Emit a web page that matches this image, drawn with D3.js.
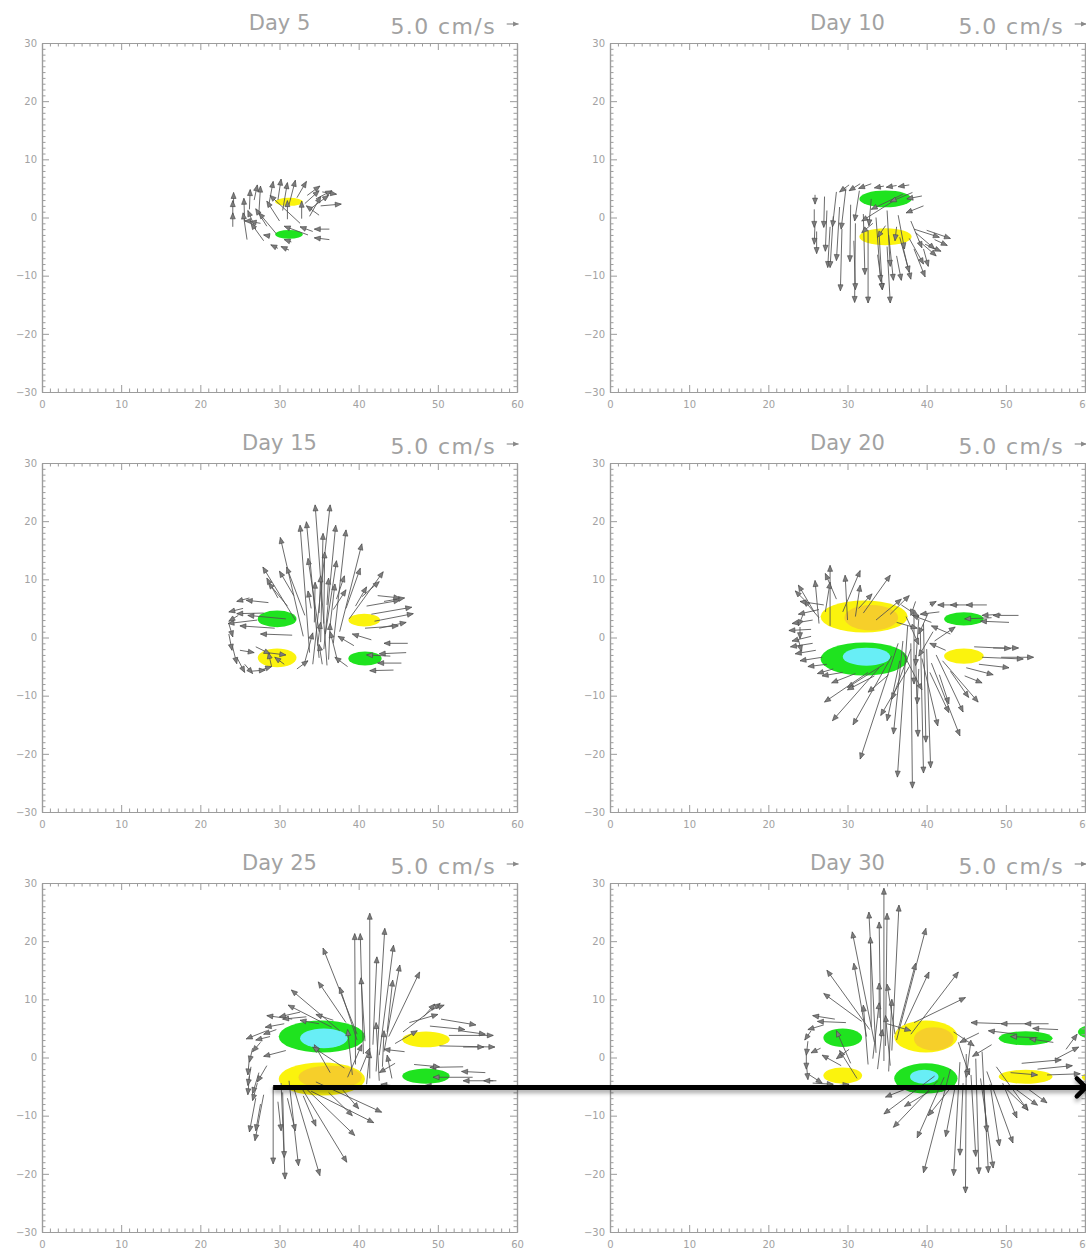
<!DOCTYPE html>
<html><head><meta charset="utf-8">
<script src="https://cdn.jsdelivr.net/npm/d3@7"></script>
<style>
html,body{margin:0;padding:0;background:#fff;overflow:hidden}
svg{display:block}
text{font-family:"DejaVu Sans",sans-serif}
</style></head><body>
<svg id="chart" width="1086" height="1254"></svg>
<script>
// ---- panel labels and axis ticks ----
const days = [5, 10, 15, 20, 25, 30];
const xTicks = [0, 10, 20, 30, 40, 50, 60];
const yTicks = [-30, -20, -10, 0, 10, 20, 30];
const refSpeedLabel = "5.0 cm/s";
const refVector = 1.5;          // grid units drawn for 5.0 cm/s

// ---- anomaly cells: [cx, cy, rx, ry, kind] ----
const day5Cells = [[31.2, 2.7, 1.75, 0.7, "pos"], [31.2, -2.9, 1.75, 0.75, "neg"]];
const day10Cells = [[34.8, 3.2, 3.3, 1.45, "neg"], [34.8, -3.3, 3.3, 1.45, "pos"]];
const day15Cells = [[29.7, 3.2, 2.45, 1.45, "neg"], [40.7, 3.0, 2.0, 1.1, "pos"],
  [29.7, -3.5, 2.45, 1.6, "pos"], [40.8, -3.6, 2.1, 1.2, "neg"]];
const day20Cells = [[32.1, 3.6, 5.5, 2.75, "pos"], [33.0, 3.4, 3.4, 2.2, "pos2"],
  [32.1, -3.7, 5.5, 2.85, "neg"], [32.4, -3.3, 3.0, 1.55, "neg2"],
  [44.7, 3.2, 2.5, 1.15, "neg"], [44.7, -3.2, 2.5, 1.3, "pos"]];
const day25Cells = [[35.35, 3.6, 5.45, 2.75, "neg"], [35.6, 3.3, 3.0, 1.7, "neg2"],
  [35.35, -3.7, 5.45, 2.85, "pos"], [36.4, -3.4, 4.0, 2.0, "pos2"],
  [48.5, 3.1, 3.0, 1.35, "pos"], [48.5, -3.2, 3.0, 1.3, "neg"]];
const day30Cells = [[29.4, 3.4, 2.45, 1.6, "neg"], [29.4, -3.1, 2.45, 1.4, "pos"],
  [39.9, 3.6, 4.0, 2.75, "pos"], [40.9, 3.2, 2.5, 2.0, "pos2"],
  [39.9, -3.6, 4.0, 2.6, "neg"], [39.7, -3.3, 1.8, 1.2, "neg2"],
  [52.5, 3.3, 3.4, 1.2, "neg"], [52.5, -3.3, 3.4, 1.2, "pos"],
  [62.5, 4.4, 3.4, 1.5, "neg"], [62.8, -3.4, 3.2, 1.2, "pos"]];

// ---- velocity vectors: [x, y, u, v] (u, v in grid units at the reference scale) ----
const day5Vectors = [
  [24.1,-1.6,0.0,2.4],[24.1,0.3,0.0,2.6],[24.2,1.9,0.0,2.4],[25.9,-3.8,-0.5,4.6],[25.6,-0.6,-0.1,3.9],
  [26.2,1.4,0.1,3.4],[27.0,-2.0,-1.0,3.2],[27.4,0.8,0.2,4.6],[28.0,-4.0,-1.6,3.0],[28.4,-1.5,-1.4,3.0],
  [28.6,1.8,0.6,4.4],[29.6,-2.8,-2.2,3.6],[30.0,-0.6,-1.6,3.4],[29.8,3.0,0.4,3.6],[31.0,-0.3,0.0,3.2],
  [31.2,2.2,0.8,4.2],[32.6,-1.0,-3.8,4.8],[32.2,3.4,1.2,2.8],[32.8,-0.2,0.0,3.0],[33.2,2.4,1.8,2.2],
  [33.5,3.8,1.6,1.6],[34.0,1.6,2.2,2.2],[34.6,3.2,2.0,1.4],[35.2,2.0,2.6,0.3],[35.4,4.4,1.8,-0.4],
  [35.0,0.4,-1.6,1.6],[36.3,-2.0,-1.9,0.0],[36.3,-3.8,-1.9,0.3],[34.2,-2.4,-1.6,0.8],[33.6,-3.0,-3.0,1.5],
  [31.2,-5.6,-1.0,0.6],[29.8,-5.3,-0.9,0.6],[27.6,-1.0,-1.3,0.3],[26.4,-0.6,-0.8,0.0],[28.8,-3.2,-0.8,0.2],
  [31.5,-4.2,-0.9,0.4],[26.8,3.0,0.4,2.6],[30.4,1.2,0.6,4.8],[33.8,0.2,1.4,3.4]
];
const day10Vectors = [
  [30.2,5.6,-1.2,-1.2],[31.6,5.8,-1.4,-1.2],[33.0,5.8,-1.6,-0.8],[34.6,5.4,-1.2,-0.3],[36.2,5.5,-1.3,-0.3],
  [37.8,5.6,-1.4,-0.3],[39.4,3.7,-1.9,-0.5],[39.6,2.0,-2.2,-1.2],[38.2,4.3,-2.8,-1.6],[37.0,4.0,-4.0,-2.6],
  [36.0,3.0,-4.2,-3.6],[25.9,3.9,0.0,-1.6],[25.8,1.4,0.0,-3.1],[25.9,-0.8,-0.1,-3.8],[26.1,-2.4,0.0,-3.8],
  [27.1,3.6,-0.1,-5.3],[27.4,1.2,-0.2,-7.0],[27.8,-1.6,-0.3,-7.0],[28.6,4.4,-0.5,-6.0],[29.0,1.8,-0.4,-9.2],
  [29.3,-2.0,-0.2,-10.6],[29.8,5.0,-0.6,-7.0],[30.4,2.2,-0.1,-9.8],[31.0,-1.0,-0.1,-13.6],[31.5,4.6,-0.6,-5.2],
  [32.0,0.6,0.2,-10.4],[32.6,-2.2,0.0,-12.5],[33.0,3.2,-0.3,-4.6],[33.6,0.0,0.6,-11.0],[34.0,-3.0,0.4,-9.4],
  [35.0,1.2,0.4,-9.6],[35.2,-3.0,0.6,-7.8],[35.0,-5.0,0.4,-9.7],[36.4,0.4,0.8,-5.8],[36.6,-3.4,1.2,-6.0],
  [37.0,-5.0,1.0,-5.6],[38.0,-0.6,1.4,-4.6],[37.8,-3.6,1.8,-4.4],[38.4,-5.4,1.4,-4.8],[38.6,-2.6,2.4,-2.8],
  [39.0,-4.0,2.2,-2.6],[39.6,-5.4,0.6,-3.0],[38.4,-2.0,3.2,-1.4],[40.0,-2.2,3.0,-1.4],[41.0,-3.8,1.6,-1.0],
  [39.8,-4.6,2.0,-1.2],[34.8,-1.4,-1.0,-2.0],[33.2,-1.0,-1.4,-1.6],[36.2,-1.6,-0.2,-2.4],
  [28.2,0.2,-0.4,-8.8],[30.8,-4.0,0.2,-8.4],[33.8,-6.4,0.6,-6.0],[36.2,-6.6,0.6,-4.2]
];
const day15Vectors = [
  [36.0,-4.8,-1.5,27.6],[34.2,-4.6,2.2,27.4],[35.0,-3.5,-1.6,23.4],[35.6,-2.0,1.5,21.3],[36.8,-1.0,1.6,19.5],
  [33.8,-2.6,-1.2,21.9],[33.0,0.2,-2.9,17.0],[37.6,1.0,2.8,15.1],[32.0,3.0,-4.1,9.1],[33.2,3.8,-2.3,8.3],
  [38.8,3.2,4.3,8.1],[35.0,1.0,-1.4,12.6],[35.8,0.6,1.4,12.6],[35.2,-0.8,0.3,18.7],[35.6,2.4,0.1,12.3],
  [34.4,2.6,0.1,6.9],[36.4,2.2,0.6,7.0],[38.4,5.0,1.8,6.9],[39.6,5.4,1.4,3.3],[31.0,5.4,-2.4,4.0],
  [34.0,5.0,-0.4,3.0],[36.8,4.8,1.6,3.4],[35.4,-4.6,-0.4,3.4],[34.8,-1.4,0.4,4.0],[36.2,-3.8,0.2,6.2],
  [35.0,4.2,0.2,6.4],[36.0,5.6,0.2,4.6],[37.4,-4.4,-1.0,5.4],[33.2,-4.2,1.0,5.0],
  [28.6,6.0,-2.8,0.4],[28.0,4.2,-3.4,-0.1],[27.2,3.0,-3.7,-0.6],[26.2,6.8,-1.6,-0.6],[30.8,3.2,-4.8,0.6],
  [29.4,1.6,-4.4,0.4],[31.6,0.4,-4.0,0.2],[23.6,2.4,0.5,-2.3],[23.6,0.6,0.4,-2.8],[24.0,-1.2,0.6,-3.3],
  [24.6,-3.4,1.0,-2.6],[25.6,-4.6,1.0,-1.6],[26.4,-5.8,1.8,0.2],[27.6,-5.6,1.4,0.6],[25.0,-2.2,1.8,-0.4],
  [29.0,-5.0,-0.4,2.4],[30.6,-4.6,-1.2,1.2],[32.2,-5.4,1.4,1.4],[27.0,-1.6,1.8,-1.2],[28.4,-2.6,2.4,-0.4],
  [41.0,5.4,4.2,1.0],[41.6,4.0,5.1,1.2],[42.0,2.8,4.9,1.3],[42.6,1.6,3.4,1.0],[40.8,1.6,4.2,0.4],
  [43.2,6.2,2.6,0.6],[42.4,7.2,2.8,-0.4],[46.2,-1.0,-3.0,0.0],[46.0,-2.6,-3.4,-0.2],[45.4,-4.4,-3.0,0.0],
  [44.4,-5.6,-3.0,-0.1],[44.0,-3.2,-3.0,0.2],[38.6,-5.0,-1.6,1.6],[39.4,-1.4,-2.0,1.6],[41.6,-0.4,-2.4,1.0],
  [29.8,6.8,-1.4,3.4],[31.8,7.2,-1.8,4.2],[37.2,6.6,1.0,4.0],[40.4,7.0,2.2,2.6],[25.4,5.0,-1.8,-0.6],[24.8,3.8,-1.2,-1.0]
];
const day20Vectors = [
  [38.0,-1.0,0.2,-24.9],[37.6,2.0,-1.3,-26.0],[39.2,1.0,0.4,-24.3],[40.0,-2.0,0.5,-20.4],[38.6,-3.0,0.3,-14.0],
  [37.0,-0.6,-1.2,-16.0],[36.4,-1.0,-4.8,-19.9],[35.6,-3.2,-4.9,-11.8],[34.0,-5.2,-5.9,-9.1],[32.6,-6.0,-5.5,-5.1],
  [36.6,-4.0,-1.6,-10.3],[39.4,-3.6,2.0,-11.6],[40.6,-4.4,3.6,-12.5],[41.2,-3.0,3.4,-9.8],[42.0,-4.0,4.5,-7.1],
  [37.8,-5.0,-3.6,-8.4],[34.6,-4.6,-4.6,-4.0],[39.0,-5.4,-0.2,-6.0],[39.6,2.4,0.3,-20.4],[40.4,-6.0,2.4,-6.9],
  [43.0,-5.8,2.3,-4.5],[38.4,4.0,0.0,-12.0],[39.0,3.2,-0.4,-8.0],
  [27.8,2.0,0.0,10.4],[26.4,2.4,-0.5,7.4],[30.0,3.0,-0.3,7.7],[29.4,4.4,2.2,7.1],[32.0,4.2,3.4,6.5],
  [27.2,4.4,0.6,5.1],[31.0,3.6,0.6,5.4],[31.4,5.0,1.7,2.5],[25.8,4.4,-2.0,4.6],[26.4,3.4,-1.9,3.0],
  [33.6,3.0,3.2,3.6],[35.4,4.0,2.4,3.2],
  [27.0,5.6,-3.0,0.6],[26.4,4.8,-2.6,-0.8],[25.6,3.0,-2.6,-0.6],[25.4,1.4,-2.8,-0.2],[25.4,0.2,-2.4,-0.8],
  [25.6,-1.0,-2.8,-0.6],[26.0,-2.2,-2.6,-0.6],[26.8,-3.4,-2.8,-0.6],[27.4,-4.6,-2.4,-0.4],[28.2,-5.4,-2.0,-0.8],
  [24.4,4.0,-0.6,-2.0],[24.0,1.8,0.0,-2.0],[23.8,-0.4,0.4,-2.0],
  [44.0,5.6,-2.6,0.0],[45.8,5.6,-2.8,0.0],[47.6,5.6,-2.6,0.0],[51.6,3.8,-3.2,0.0],[49.4,4.0,-2.4,-0.2],
  [48.2,3.4,-3.4,-0.2],[50.4,2.6,-3.6,0.2],
  [46.0,-1.6,4.6,-0.3],[48.4,-1.8,3.2,0.0],[47.0,-3.4,5.2,-0.3],[49.4,-3.4,4.1,0.0],[46.6,-4.6,3.8,-0.6],
  [45.0,-5.2,3.4,-1.2],[44.8,-6.6,2.2,-1.2],
  [40.6,2.6,-2.4,1.2],[41.6,4.4,-2.4,-0.4],[40.4,5.6,0.8,0.6],[41.0,-0.6,2.6,2.4],[42.4,-2.2,-2.0,1.2],
  [43.0,0.6,-2.4,1.4],
  [36.8,5.6,2.2,-2.0],[37.4,3.6,1.6,-4.8],[40.2,4.2,-1.2,-3.6],[38.6,6.2,-0.6,-2.4],[36.2,2.6,2.6,-1.0],
  [40.8,1.0,-1.8,-4.2],[37.0,-2.6,2.4,-6.4],[38.0,-2.0,-2.4,-8.6],[35.2,-6.4,-2.6,-3.0],[33.4,-6.6,-3.4,-2.4],
  [31.0,-6.2,-3.0,-1.6],[29.4,-6.0,-2.6,-0.6],[41.6,-6.4,1.2,-5.0],[24.6,6.4,-1.2,1.6],[28.6,6.6,-1.4,4.4]
];
const day25Vectors = [
  [41.4,-3.6,0.0,28.4],[39.6,-1.2,-0.1,22.5],[40.6,0.6,-0.4,20.7],[42.2,-2.4,1.1,24.6],[42.6,0.4,1.8,18.9],
  [41.8,2.2,0.5,15.1],[43.2,1.0,2.0,14.9],[43.8,3.6,3.9,11.1],[39.8,4.0,-4.3,14.8],[37.6,4.6,-6.1,7.0],
  [38.4,6.0,-3.5,7.0],[39.8,3.0,-2.2,9.1],[43.6,4.4,0.7,8.9],[40.8,2.8,-0.5,10.9],[36.6,5.2,-5.5,3.8],
  [45.6,4.4,4.7,4.9],[42.6,-4.0,-0.4,10.0],[43.0,-1.6,0.2,6.2],[41.0,-4.6,0.4,5.6],[44.2,-3.6,-0.6,4.0],
  [31.6,6.6,-3.2,0.6],[33.4,7.0,-3.0,-0.4],[30.6,5.8,-2.4,-0.6],[29.6,4.8,-1.6,-0.8],[28.8,3.6,-1.8,-0.6],
  [27.6,2.6,-1.0,-1.6],[26.6,1.6,-0.4,-2.4],[26.2,0.0,-0.2,-3.0],[26.4,-1.6,-0.4,-3.2],[26.2,-3.2,-0.2,-3.2],
  [27.2,-4.4,-0.6,-3.0],[28.4,4.6,-2.6,-1.4],[35.0,5.8,-2.4,0.6],[36.8,6.4,-2.2,1.0],
  [29.2,-5.0,0.0,-13.3],[30.2,-4.4,0.5,-16.5],[31.2,-4.0,1.2,-14.6],[31.8,-5.2,3.3,-15.1],[32.6,-4.8,5.9,-13.2],
  [33.4,-5.4,6.1,-8.0],[34.6,-4.2,8.3,-5.2],[34.0,-5.8,7.9,-5.4],[30.4,-6.0,0.2,-11.2],[28.0,-6.4,-1.1,-7.9],
  [27.0,-7.0,-0.8,-5.8],[27.6,-8.0,-0.6,-4.6],[29.8,-7.6,0.4,-5.0],[31.0,-7.0,1.0,-5.6],[33.0,-6.6,1.6,-5.2],
  [51.4,3.8,5.6,0.0],[50.2,2.0,7.0,-0.2],[52.8,4.6,3.2,-0.6],[53.2,1.8,2.6,0.0],[49.0,5.4,4.4,-0.6],
  [50.4,6.6,4.4,-1.0],[49.2,8.2,1.6,0.8],[48.2,7.0,1.4,2.2],
  [53.2,-1.6,-4.2,-0.1],[54.4,-3.4,-5.0,0.0],[57.4,-4.0,-4.2,0.0],[57.0,-4.0,-1.2,0.0],[56.0,-2.6,-3.0,0.2],
  [51.6,-5.0,-3.2,0.2],
  [36.4,-2.6,-2.0,4.8],[38.2,-1.8,-4.0,3.6],[44.6,-1.0,-2.0,-1.6],[45.8,1.0,-2.6,0.4],
  [38.6,-3.4,1.8,5.6],[40.2,-2.4,1.2,4.0],[44.6,2.4,2.8,2.2],[46.4,6.0,3.6,1.4],[47.0,-1.2,3.2,-0.4],
  [45.2,-5.0,-2.4,0.4],[38.0,-5.6,2.0,-3.2],[36.2,-6.0,3.0,-4.0],[28.4,-1.4,-1.2,-2.8],[27.4,-2.6,-0.8,-3.6],
  [32.6,7.8,-2.6,-0.8],[30.8,1.2,-2.8,-1.0],[39.2,-3.0,-0.6,7.8]
];
const day30Vectors = [
  [34.6,-0.6,0.0,29.7],[33.6,0.8,-0.9,24.2],[35.6,1.2,0.9,25.0],[34.8,2.0,0.2,22.8],[34.2,3.6,-0.2,19.7],
  [33.4,2.6,-2.8,19.0],[36.2,3.0,3.7,19.2],[33.0,5.2,-0.1,15.5],[32.8,4.8,-5.4,10.2],[32.4,3.6,-1.6,12.6],
  [36.4,4.8,2.2,11.4],[37.2,5.6,3.1,9.1],[38.0,4.0,6.0,10.7],[38.4,6.0,6.5,4.3],[31.8,6.2,-4.8,4.8],
  [34.0,6.8,0.0,6.0],[35.4,-1.4,-0.6,8.6],[33.8,-2.0,0.6,6.8],[32.6,-1.2,-0.6,10.2],
  [45.0,0.6,-0.1,-23.9],[44.2,-0.8,-0.8,-19.5],[46.2,-0.2,0.4,-19.8],[47.0,1.0,0.8,-20.8],[43.0,-2.0,-3.4,-17.8],
  [47.6,-2.4,3.3,-12.3],[42.2,-3.4,-3.4,-10.4],[41.4,-4.0,-5.6,-8.0],[41.0,-3.2,-6.4,-6.5],[48.8,-1.6,4.0,-7.5],
  [45.6,-3.0,0.6,-14.0],[46.8,-3.6,1.6,-15.4],[44.6,-4.4,-0.4,-12.4],[48.0,-4.6,1.2,-10.6],[43.6,-5.0,-1.2,-8.6],
  [49.6,-4.4,1.8,-6.0],
  [28.4,6.6,-2.8,0.6],[29.8,6.0,-3.6,0.2],[27.0,5.6,-2.0,-0.8],[25.4,4.6,-0.8,-1.6],[25.0,2.8,-0.2,-2.4],
  [24.8,0.8,0.0,-2.8],[24.8,-1.0,0.2,-2.8],[25.2,-3.0,1.6,-1.4],[25.6,-4.4,2.6,-0.2],[27.8,-5.0,2.4,0.4],
  [26.6,1.6,-1.2,-0.8],[30.4,-1.0,-1.8,5.6],[31.2,-3.6,-2.2,4.8],[29.2,-1.4,-2.4,1.8],
  [50.0,5.8,-4.4,0.2],[53.0,5.8,-3.6,0.0],[55.4,5.8,-3.0,0.0],[56.6,4.8,-3.2,0.2],[51.4,4.0,-3.6,0.6],
  [54.0,3.4,-3.4,0.2],[56.0,2.6,-3.0,0.6],
  [52.0,-1.0,5.0,0.6],[54.0,-2.0,4.4,0.6],[55.2,-3.0,4.2,0.2],[50.6,-2.6,3.4,-0.4],[56.4,-0.2,2.8,2.0],
  [57.6,1.4,1.4,2.6],[49.6,-4.8,3.2,-4.2],[51.0,-5.2,3.0,-3.0],[52.6,-5.2,2.6,-2.6],
  [35.2,-2.4,0.4,12.4],[33.2,-0.2,0.8,9.6],[36.0,4.0,-1.0,8.6],[44.0,2.6,1.4,-5.6],[45.6,3.0,-0.6,-6.4],
  [47.2,-5.6,0.4,-7.2],[42.8,-5.6,-2.6,-4.4],[40.4,-5.8,-3.2,-2.6],[37.4,-5.4,-2.6,-1.4],[30.2,1.4,-1.6,-1.6],
  [35.0,5.8,3.0,-1.2],[46.6,4.2,-2.4,-1.6],[43.4,4.4,2.6,-2.4],[48.2,2.2,-2.4,-2.0]
];

// front arrow drawn across the last row: start/end in panel grid coordinates
const frontFrom = {day: 25, x: 29.2, y: -5.15};
const frontTo = {day: 30, x: 60.1, y: -5.15};

const cellsByDay = [day5Cells, day10Cells, day15Cells, day20Cells, day25Cells, day30Cells];
const vectorsByDay = [day5Vectors, day10Vectors, day15Vectors, day20Vectors, day25Vectors, day30Vectors];

// ---- layout ----
const panelW = 475, panelH = 349;
const colLeft = [42, 610], rowTop = [43, 463, 883];
const axisGray = "#9c9c9c", textGray = "#a2a2a2";

const cellColor = d3.scaleOrdinal()
  .domain(["pos", "pos2", "neg", "neg2"])
  .range(["#fbf30d", "#f6cf2a", "#1fe31f", "#68eef6"]);

const svg = d3.select("#chart");
const defs = svg.append("defs");
const shadow = defs.append("filter").attr("id", "soft-shadow")
  .attr("x", "-5%").attr("y", "-200%").attr("width", "110%").attr("height", "500%");
shadow.append("feDropShadow").attr("dx", 0).attr("dy", 3).attr("stdDeviation", 2.2)
  .attr("flood-color", "#000").attr("flood-opacity", 0.35);

const x = d3.scaleLinear().domain([0, 60]).range([0, panelW]);
const y = d3.scaleLinear().domain([-30, 30]).range([panelH, 0]);

function headPath(x1, y1, x2, y2, L = 6, W = 2.5) {
  const a = Math.atan2(y2 - y1, x2 - x1);
  const bx = x2 - L * Math.cos(a), by = y2 - L * Math.sin(a);
  const px = -Math.sin(a) * W, py = Math.cos(a) * W;
  return `M${x2},${y2}L${bx + px},${by + py}L${bx - px},${by - py}Z`;
}

function styleAxis(sel) {
  sel.select(".domain").attr("stroke", axisGray).attr("stroke-width", 1.2);
  sel.selectAll(".tick line").attr("stroke", axisGray).attr("stroke-width", 1);
  sel.selectAll(".tick text").attr("fill", textGray).attr("font-size", 10)
    .attr("font-family", "DejaVu Sans, sans-serif");
}

const minorX = d3.range(0, 61, 1).filter(v => v % 10 !== 0);
const minorY = d3.range(-30, 31, 1).filter(v => v % 10 !== 0);
const noLabel = () => "";

function panelOrigin(i) {
  return [colLeft[i % 2], rowTop[Math.floor(i / 2)]];
}

days.forEach((day, i) => {
  const [ox, oy] = panelOrigin(i);
  const g = svg.append("g").attr("transform", `translate(${ox},${oy})`);

  // anomaly cells
  g.append("g").selectAll("ellipse").data(cellsByDay[i]).join("ellipse")
    .attr("cx", d => x(d[0])).attr("cy", d => y(d[1]))
    .attr("rx", d => x(d[2]) - x(0)).attr("ry", d => y(0) - y(d[3]))
    .attr("fill", d => cellColor(d[4]));

  // velocity vectors
  const vg = g.append("g");
  const vec = vectorsByDay[i];
  vg.selectAll("line").data(vec).join("line")
    .attr("x1", d => x(d[0])).attr("y1", d => y(d[1]))
    .attr("x2", d => x(d[0] + d[2])).attr("y2", d => y(d[1] + d[3]))
    .attr("stroke", "#505050").attr("stroke-width", 0.85);
  vg.selectAll("path").data(vec).join("path")
    .attr("d", d => headPath(x(d[0]), y(d[1]), x(d[0] + d[2]), y(d[1] + d[3])))
    .attr("fill", "#7d7d7d").attr("stroke", "#444").attr("stroke-width", 0.6)
    .attr("stroke-linejoin", "round");

  // frame: inward major and minor ticks on all four sides
  const bottom = g.append("g").attr("transform", `translate(0,${panelH})`);
  bottom.append("g").call(d3.axisBottom(x).tickValues(minorX).tickSize(-3.5).tickSizeOuter(0).tickFormat(noLabel)).call(styleAxis);
  bottom.append("g").call(d3.axisBottom(x).tickValues(xTicks).tickSize(-7).tickSizeOuter(0).tickPadding(9).tickFormat(d3.format("d"))).call(styleAxis);
  const top = g.append("g");
  top.append("g").call(d3.axisTop(x).tickValues(minorX).tickSize(-3.5).tickSizeOuter(0).tickFormat(noLabel)).call(styleAxis);
  top.append("g").call(d3.axisTop(x).tickValues(xTicks).tickSize(-7).tickSizeOuter(0).tickFormat(noLabel)).call(styleAxis);
  const left = g.append("g");
  left.append("g").call(d3.axisLeft(y).tickValues(minorY).tickSize(-3.5).tickSizeOuter(0).tickFormat(noLabel)).call(styleAxis);
  left.append("g").call(d3.axisLeft(y).tickValues(yTicks).tickSize(-7).tickSizeOuter(0).tickPadding(5).tickFormat(d3.format("d"))).call(styleAxis);
  const right = g.append("g").attr("transform", `translate(${panelW},0)`);
  right.append("g").call(d3.axisRight(y).tickValues(minorY).tickSize(-3.5).tickSizeOuter(0).tickFormat(noLabel)).call(styleAxis);
  right.append("g").call(d3.axisRight(y).tickValues(yTicks).tickSize(-7).tickSizeOuter(0).tickFormat(noLabel)).call(styleAxis);

  // title and reference vector
  g.append("text").attr("x", x(30)).attr("y", -13).attr("text-anchor", "middle")
    .attr("font-size", 21).attr("fill", textGray).text(`Day ${day}`);
  g.append("text").attr("x", x(60) - 21).attr("y", -9).attr("text-anchor", "end")
    .attr("font-size", 22).attr("letter-spacing", 1.4).attr("fill", textGray).text(refSpeedLabel);
  const rx0 = x(60.2 - refVector), rx1 = x(60.2), ry0 = -19;
  g.append("line").attr("x1", rx0).attr("y1", ry0).attr("x2", rx1).attr("y2", ry0)
    .attr("stroke", "#888").attr("stroke-width", 1.1);
  g.append("path").attr("d", headPath(rx0, ry0, rx1, ry0, 5.5, 2.6)).attr("fill", "#888");
});

// front arrow spanning the bottom row
const fromIdx = days.indexOf(frontFrom.day), toIdx = days.indexOf(frontTo.day);
const [fx, fy] = panelOrigin(fromIdx), [tx, ty] = panelOrigin(toIdx);
const ax0 = fx + x(frontFrom.x), ay0 = fy + y(frontFrom.y);
const ax1 = tx + x(frontTo.x), ay1 = ty + y(frontTo.y);
const front = svg.append("g").attr("filter", "url(#soft-shadow)");
front.append("line").attr("x1", ax0).attr("y1", ay0).attr("x2", ax1 - 2).attr("y2", ay1)
  .attr("stroke", "#000").attr("stroke-width", 5);
front.append("path")
  .attr("d", `M${ax1 - 9},${ay1 - 9}L${ax1},${ay1}L${ax1 - 9},${ay1 + 9}`)
  .attr("fill", "none").attr("stroke", "#000").attr("stroke-width", 4.5)
  .attr("stroke-linecap", "round").attr("stroke-linejoin", "round");
</script>
</body></html>
